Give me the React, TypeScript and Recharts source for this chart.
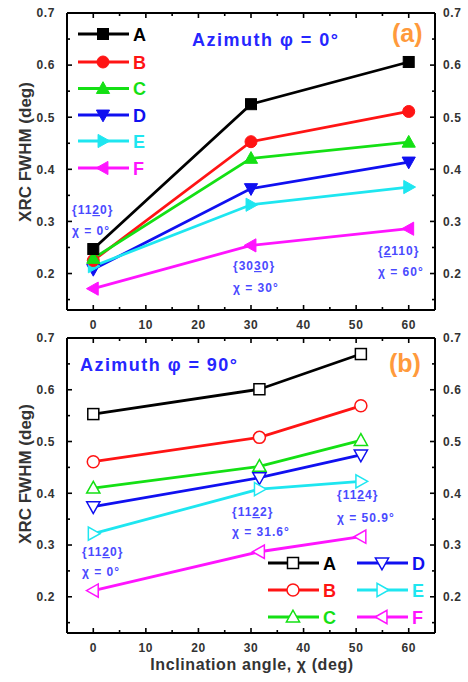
import React from 'react';
import { LineChart, Line, XAxis, YAxis } from 'recharts';

const FONT = '"Liberation Sans", Arial, Helvetica, sans-serif';

// Panel (a): azimuth phi = 0 deg, inclination angles
const chiA = [0, 30, 60];
const aA = [0.247, 0.525, 0.606];
const aB = [0.225, 0.453, 0.511];
const aC = [0.229, 0.421, 0.452];
const aD = [0.208, 0.363, 0.414];
const aE = [0.214, 0.332, 0.366];
const aF = [0.171, 0.254, 0.286];

// Panel (b): azimuth phi = 90 deg
const chiB = [0, 31.6, 50.9];
const bA = [0.553, 0.601, 0.669];
const bB = [0.461, 0.508, 0.569];
const bC = [0.41, 0.452, 0.502];
const bD = [0.374, 0.43, 0.474];
const bE = [0.322, 0.408, 0.423];
const bF = [0.212, 0.287, 0.316];

const seriesNames = ['A', 'B', 'C', 'D', 'E', 'F'];
const colors = ['#000000', '#ff1414', '#14e014', '#1010f0', '#1ee6f0', '#ff14ff'];
const shapes = ['square', 'circle', 'up', 'down', 'right', 'left'];
const drawOrder = [5, 3, 4, 1, 2, 0];

const xTicks = [0, 5, 10, 15, 20, 25, 30, 35, 40, 45, 50, 55, 60];
const yTicks = [0.15, 0.2, 0.25, 0.3, 0.35, 0.4, 0.45, 0.5, 0.55, 0.6, 0.65, 0.7];
const xDomain = [-5, 65];
const yDomain = [0.13, 0.7];

function buildRows(xs: number[], cols: number[][]) {
  return xs.map((x, i) => {
    const r: any = { x };
    seriesNames.forEach((n, k) => {
      r[n] = cols[k][i];
    });
    return r;
  });
}

const rowsA = buildRows(chiA, [aA, aB, aC, aD, aE, aF]);
const rowsB = buildRows(chiB, [bA, bB, bC, bD, bE, bF]);

function Marker({ cx, cy, shape, color, open, size }: any) {
  const s = size;
  const fill = open ? '#ffffff' : color;
  const sw = open ? 1.5 : 1;
  let pts = '';
  switch (shape) {
    case 'square':
      return <rect x={cx - s / 2} y={cy - s / 2} width={s} height={s} fill={fill} stroke={color} strokeWidth={sw} />;
    case 'circle':
      return <circle cx={cx} cy={cy} r={s / 2 + 0.5} fill={fill} stroke={color} strokeWidth={sw} />;
    case 'up':
      pts = `${cx},${cy - 0.62 * s} ${cx - 0.6 * s},${cy + 0.45 * s} ${cx + 0.6 * s},${cy + 0.45 * s}`;
      break;
    case 'down':
      pts = `${cx},${cy + 0.62 * s} ${cx - 0.6 * s},${cy - 0.45 * s} ${cx + 0.6 * s},${cy - 0.45 * s}`;
      break;
    case 'right':
      pts = `${cx + 0.62 * s},${cy} ${cx - 0.45 * s},${cy - 0.6 * s} ${cx - 0.45 * s},${cy + 0.6 * s}`;
      break;
    default:
      pts = `${cx - 0.62 * s},${cy} ${cx + 0.45 * s},${cy - 0.6 * s} ${cx + 0.45 * s},${cy + 0.6 * s}`;
  }
  return <polygon points={pts} fill={fill} stroke={color} strokeWidth={sw} strokeLinejoin="miter" />;
}

const isMajorX = (v: number) => Math.abs(v % 10) < 1e-6;
const isMajorY = (v: number) => Math.abs(v * 10 - Math.round(v * 10)) < 1e-6;
const fmtX = (v: number) => String(v);
const fmtY = (v: number) => v.toFixed(1);

const tickText = { fontFamily: FONT, fontWeight: 700, fontSize: 12, fill: '#333333', letterSpacing: 0.6 } as any;

function makeTick(orient: string, margin: number, labels: boolean, isMajor: (v: number) => boolean, fmt: (v: number) => string) {
  return function TickMark(props: any) {
    const { x, y, payload } = props;
    const v = payload.value;
    const major = isMajor(v);
    const len = major ? 5 : 3;
    const st = { stroke: '#000', strokeWidth: 1.6 };
    let ln: any = null;
    let tx: any = null;
    if (orient === 'left') {
      const ax = x + margin;
      ln = <line x1={ax} x2={ax + len} y1={y} y2={y} {...st} />;
      if (labels && major) tx = <text x={x} y={y} dy="0.36em" textAnchor="end" {...tickText}>{fmt(v)}</text>;
    } else if (orient === 'right') {
      const ax = x - margin;
      ln = <line x1={ax} x2={ax - len} y1={y} y2={y} {...st} />;
      if (labels && major) tx = <text x={x} y={y} dy="0.36em" textAnchor="start" {...tickText}>{fmt(v)}</text>;
    } else if (orient === 'bottom') {
      const ay = y - margin;
      ln = <line x1={x} x2={x} y1={ay} y2={ay - len} {...st} />;
      if (labels && major) tx = <text x={x} y={y} dy="0.36em" textAnchor="middle" {...tickText}>{fmt(v)}</text>;
    } else {
      const ay = y + margin;
      ln = <line x1={x} x2={x} y1={ay} y2={ay + len} {...st} />;
      if (labels && major) tx = <text x={x} y={y} dy="0.36em" textAnchor="middle" {...tickText}>{fmt(v)}</text>;
    }
    return (
      <g>
        {ln}
        {tx}
      </g>
    );
  };
}

const axisLine = { stroke: '#000', strokeWidth: 2 };

function Panel({ rows, open, bottomLabels, bottomHeight, topMargin, height, prefix }: any) {
  return (
    <LineChart width={468} height={height} data={rows} margin={{ top: topMargin, right: 0, bottom: 0, left: 0 }}>
      <XAxis
        xAxisId="b"
        dataKey="x"
        type="number"
        domain={xDomain}
        ticks={xTicks}
        interval={0}
        allowDataOverflow
        orientation="bottom"
        height={bottomHeight}
        tickSize={0}
        tickMargin={15}
        tickLine={false}
        axisLine={axisLine}
        tick={makeTick('bottom', 15, bottomLabels, isMajorX, fmtX)}
      />
      <XAxis
        xAxisId="t"
        dataKey="x"
        type="number"
        domain={xDomain}
        ticks={xTicks}
        interval={0}
        allowDataOverflow
        orientation="top"
        height={1}
        tickSize={0}
        tickMargin={0}
        tickLine={false}
        axisLine={axisLine}
        tick={makeTick('top', 0, false, isMajorX, fmtX)}
      />
      <YAxis
        yAxisId="l"
        type="number"
        domain={yDomain}
        ticks={yTicks}
        interval={0}
        allowDataOverflow
        orientation="left"
        width={67}
        tickSize={0}
        tickMargin={12}
        tickLine={false}
        axisLine={axisLine}
        tick={makeTick('left', 12, true, isMajorY, fmtY)}
      />
      <YAxis
        yAxisId="r"
        type="number"
        domain={yDomain}
        ticks={yTicks}
        interval={0}
        allowDataOverflow
        orientation="right"
        width={33}
        tickSize={0}
        tickMargin={8}
        tickLine={false}
        axisLine={axisLine}
        tick={makeTick('right', 8, true, isMajorY, fmtY)}
      />
      {drawOrder.map((k) => (
        <Line
          key={seriesNames[k]}
          xAxisId="b"
          yAxisId="l"
          type="linear"
          dataKey={seriesNames[k]}
          stroke={colors[k]}
          strokeWidth={2.8}
          isAnimationActive={false}
          activeDot={false}
          dot={(p: any) => (
            <Marker
              key={`${prefix}-${k}-${p.index}`}
              cx={p.cx}
              cy={p.cy}
              shape={shapes[k]}
              color={colors[k]}
              open={open}
              size={11}
            />
          )}
        />
      ))}
    </LineChart>
  );
}

const azStyle = { fontFamily: FONT, fontWeight: 700, fontSize: 18, fill: '#2626ff' } as any;
const tagStyle = { fontFamily: FONT, fontWeight: 700, fontSize: 25, fill: '#ff9a3c' } as any;
const noteStyle = { fontFamily: FONT, fontWeight: 700, fontSize: 12, fill: '#4a4aff', letterSpacing: 1 } as any;
const legStyle = { fontFamily: FONT, fontWeight: 700, fontSize: 18 } as any;
const axTitle = { fontFamily: FONT, fontWeight: 700, fontSize: 17, fill: '#333333' } as any;

function Plane({ x, y, pre, bar, post }: any) {
  return (
    <text x={x} y={y} {...noteStyle}>
      {pre}
      <tspan textDecoration="underline" style={{ textDecoration: 'underline' }}>{bar}</tspan>
      {post}
    </text>
  );
}

function LegendItem({ x, y, k, open }: any) {
  return (
    <g>
      <line x1={x} x2={x + 51} y1={y} y2={y} stroke={colors[k]} strokeWidth={2.8} />
      <Marker cx={x + 25} cy={y} shape={shapes[k]} color={colors[k]} open={open} size={11} />
      <text x={x + 55} y={y + 6.5} {...legStyle} fill={colors[k]}>
        {seriesNames[k]}
      </text>
    </g>
  );
}

const topLegendY = [34, 62, 88.5, 115, 141, 168];
const botLegendY = [563, 590, 617];

export default function App() {
  return (
    <div style={{ position: 'absolute', left: 0, top: 0, width: 468, height: 682, background: '#fff', overflow: 'hidden' }}>
      <div style={{ position: 'absolute', left: 0, top: 0 }}>
        <Panel rows={rowsA} open={false} bottomLabels={true} bottomHeight={25} topMargin={12} height={335} prefix="a" />
      </div>
      <div style={{ position: 'absolute', left: 0, top: 330 }}>
        <Panel rows={rowsB} open={true} bottomLabels={true} bottomHeight={47} topMargin={7} height={350} prefix="b" />
      </div>
      <svg width={468} height={682} style={{ position: 'absolute', left: 0, top: 0, pointerEvents: 'none' }}>
        {/* axis titles */}
        <text x={25} y={152} transform="rotate(-90 25 152)" textAnchor="middle" dy="0.36em" {...axTitle}>
          XRC FWHM (deg)
        </text>
        <text x={25} y={474} transform="rotate(-90 25 474)" textAnchor="middle" dy="0.36em" {...axTitle}>
          XRC FWHM (deg)
        </text>
        <text x={252} y={670} textAnchor="middle" {...axTitle} fontSize={16} letterSpacing={0.6}>
          Inclination angle, χ (deg)
        </text>

        {/* panel (a) */}
        {topLegendY.map((y, k) => (
          <LegendItem key={`la${k}`} x={78} y={y} k={k} open={false} />
        ))}
        <text x={192} y={46} {...azStyle} textLength={146} lengthAdjust="spacing">
          Azimuth φ = 0°
        </text>
        <text x={392} y={42} {...tagStyle}>(a)</text>
        <Plane x={72} y={214} pre="{11" bar="2" post="0}" />
        <text x={72} y={235} {...noteStyle}>χ = 0°</text>
        <Plane x={233} y={270} pre="{30" bar="3" post="0}" />
        <text x={233} y={292} {...noteStyle}>χ = 30°</text>
        <Plane x={378} y={255} pre="{" bar="2" post="110}" />
        <text x={378} y={276} {...noteStyle}>χ = 60°</text>

        {/* panel (b) */}
        <text x={80} y={371} {...azStyle} textLength={157} lengthAdjust="spacing">
          Azimuth φ = 90°
        </text>
        <text x={389} y={372} {...tagStyle}>(b)</text>
        <Plane x={82} y={556} pre="{11" bar="2" post="0}" />
        <text x={82} y={576} {...noteStyle}>χ = 0°</text>
        <Plane x={232} y={516} pre="{11" bar="2" post="2}" />
        <text x={232} y={536} {...noteStyle}>χ = 31.6°</text>
        <Plane x={337} y={499} pre="{11" bar="2" post="4}" />
        <text x={337} y={522} {...noteStyle}>χ = 50.9°</text>
        {botLegendY.map((y, i) => (
          <LegendItem key={`lb${i}`} x={268} y={y} k={i} open={true} />
        ))}
        {botLegendY.map((y, i) => (
          <LegendItem key={`lc${i}`} x={357} y={y} k={i + 3} open={true} />
        ))}
      </svg>
    </div>
  );
}
